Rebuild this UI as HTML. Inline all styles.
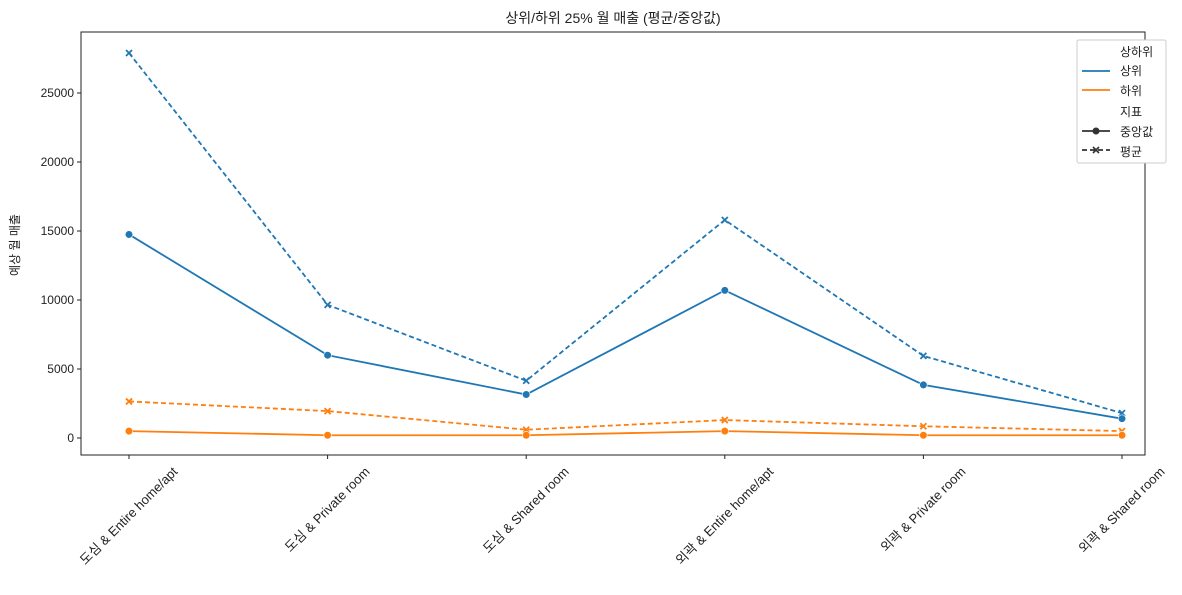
<!DOCTYPE html>
<html><head><meta charset="utf-8">
<style>
body{margin:0;background:#fff;}
svg text{font-family:"Liberation Sans","Noto Sans CJK KR",sans-serif;fill:#222;}
</style></head>
<body>
<svg id="chart" width="1182" height="590" xmlns="http://www.w3.org/2000/svg">
<text x="613" y="23" font-size="14" text-anchor="middle">상위/하위 25% 월 매출 (평균/중앙값)</text>
<rect x="81" y="32" width="1064" height="423" fill="none" stroke="#222" stroke-width="1"/>
<text transform="translate(19,245) rotate(-90)" font-size="12" text-anchor="middle">예상 월 매출</text>
<g id="axes"></g>
<g id="series"></g>
<g>
<rect x="1077" y="40" width="89" height="123" fill="#fff" stroke="#ccc" rx="2"/>
<text x="1120" y="56" font-size="12">상하위</text>
<line x1="1082" y1="71" x2="1110" y2="71" stroke="#1f77b4" stroke-width="1.8"/>
<text x="1120" y="75" font-size="12">상위</text>
<line x1="1082" y1="90" x2="1110" y2="90" stroke="#ff7f0e" stroke-width="1.8"/>
<text x="1120" y="95" font-size="12">하위</text>
<text x="1120" y="116" font-size="12">지표</text>
<line x1="1082" y1="131" x2="1110" y2="131" stroke="#333" stroke-width="1.8"/>
<circle cx="1096" cy="131" r="3.5" fill="#333"/>
<text x="1120" y="136" font-size="12">중앙값</text>
<line x1="1082" y1="150" x2="1110" y2="150" stroke="#333" stroke-width="1.8" stroke-dasharray="5,3"/>
<path d="M1093,147 L1099,153 M1099,147 L1093,153" stroke="#333" stroke-width="1.6"/>
<text x="1120" y="156" font-size="12">평균</text>
</g>
</svg>
<script>
const categories=["도심 & Entire home/apt","도심 & Private room","도심 & Shared room","외곽 & Entire home/apt","외곽 & Private room","외곽 & Shared room"];
const upperMean=[27900,9650,4150,15800,5950,1800];
const upperMedian=[14750,6000,3150,10700,3850,1400];
const lowerMean=[2650,1950,600,1300,850,500];
const lowerMedian=[500,200,200,500,200,200];
const yTicks=[0,5000,10000,15000,20000,25000];

const NS="http://www.w3.org/2000/svg";
const x0=129,x1=1122,yZero=438,pxPer=69/5000;
const xs=i=>x0+(x1-x0)*i/(categories.length-1);
const ys=v=>yZero-v*pxPer;
function mk(t,a,p){const e=document.createElementNS(NS,t);for(const k in a)e.setAttribute(k,a[k]);p.appendChild(e);return e;}
const axes=document.getElementById('axes');
yTicks.forEach(v=>{
  const g=mk('g',{},axes);
  
  
  mk('line',{x1:77,x2:81,y1:ys(v),y2:ys(v),stroke:'#222'},g);
  const t=mk('text',{x:74,y:ys(v)+4,'font-size':12,'text-anchor':'end'},g);t.textContent=v;
});
categories.forEach((c,i)=>{
  const g=mk('g',{},axes);
  
  
  mk('line',{x1:xs(i),x2:xs(i),y1:455,y2:459,stroke:'#222'},g);
  const t=mk('text',{'font-size':13,'text-anchor':'middle'},g);t.textContent=c;
  const L=t.getComputedTextLength();
  const cy=465+(L*0.7071+13*0.7071)/2;
  t.setAttribute('transform',`translate(${xs(i)},${cy}) rotate(-45)`);
  t.setAttribute('y',4);
});
const ser=document.getElementById('series');
function draw(vals,color,dashed,name){
  const g=mk('g',{},ser);
  
  
  mk('polyline',{points:vals.map((v,i)=>xs(i)+','+ys(v)).join(' '),fill:'none',stroke:color,'stroke-width':1.8,'stroke-dasharray':dashed?'5,3':'none'},g);
  vals.forEach((v,i)=>{
    const X=xs(i),Y=ys(v);
    if(dashed) mk('path',{d:`M${X-3},${Y-3} L${X+3},${Y+3} M${X+3},${Y-3} L${X-3},${Y+3}`,stroke:color,'stroke-width':1.8},g);
    else mk('circle',{cx:X,cy:Y,r:3.8,fill:color,stroke:'#fff','stroke-width':0.6},g);
  });
}
draw(upperMean,'#1f77b4',true,'series-upper-mean');
draw(upperMedian,'#1f77b4',false,'series-upper-median');
draw(lowerMean,'#ff7f0e',true,'series-lower-mean');
draw(lowerMedian,'#ff7f0e',false,'series-lower-median');
</script>
</body></html>
